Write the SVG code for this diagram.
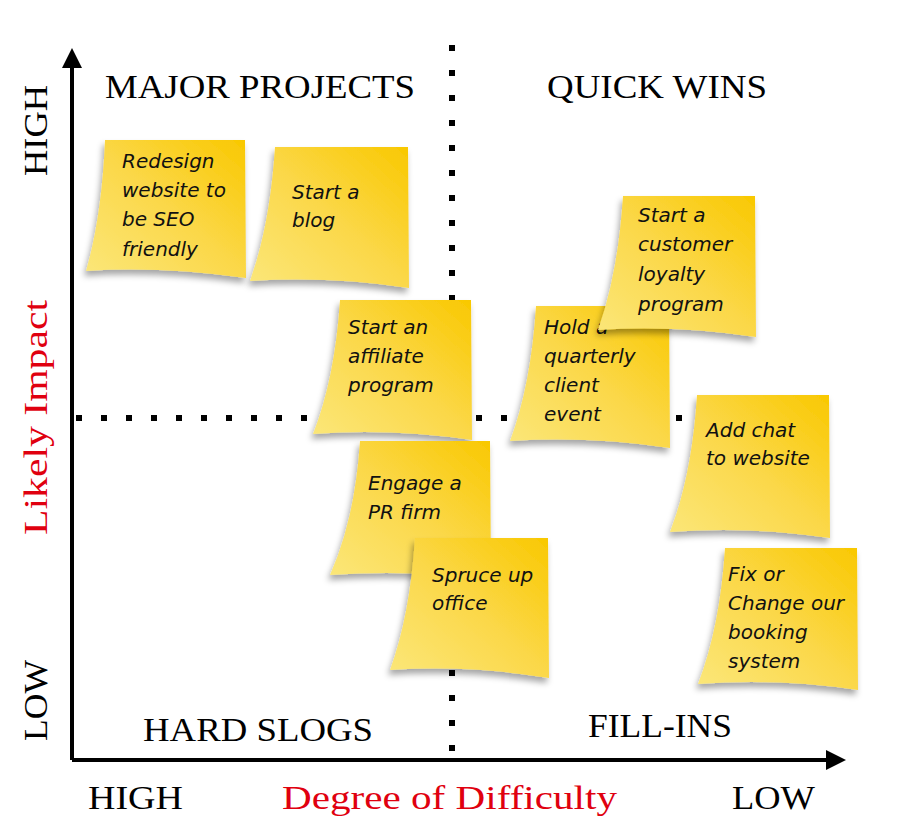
<svg xmlns="http://www.w3.org/2000/svg" width="902" height="826" viewBox="0 0 902 826">
<defs>
<linearGradient id="y" x1="0" y1="1" x2="1" y2="0">
<stop offset="0" stop-color="#fbe77a"/><stop offset="0.5" stop-color="#fbd84a"/><stop offset="1" stop-color="#f9c800"/>
</linearGradient>
<filter id="sh" x="-10%" y="-10%" width="130%" height="130%">
<feDropShadow dx="-2" dy="5" stdDeviation="3" flood-color="#000" flood-opacity="0.35"/>
</filter>
<marker id="ar" viewBox="0 0 10 10" refX="8" refY="5" markerWidth="5" markerHeight="5" orient="auto">
<path d="M0,0 L10,5 L0,10 Z" fill="#000"/>
</marker>
</defs>
<style>
.note{fill:url(#y);filter:url(#sh)}
.hw{font-family:"DejaVu Sans",sans-serif;font-style:oblique;font-size:20px;fill:#111}
.q{font-family:"Liberation Serif",serif;font-size:34px;fill:#000}
.ax{font-family:"Liberation Serif",serif;font-size:34px;fill:#000}
.red{font-family:"Liberation Serif",serif;font-size:34px;fill:#e0000f}
.dot{stroke:#000;stroke-width:6;stroke-dasharray:6 19;fill:none}
</style>
<rect width="902" height="826" fill="#fff"/>
<g id="connectors">
<line class="dot" x1="452" y1="45" x2="452" y2="756"/>
<line class="dot" x1="76" y1="418" x2="690" y2="418"/>
<line x1="72" y1="760" x2="72" y2="52" stroke="#000" stroke-width="4" marker-end="url(#ar)"/>
<line x1="72" y1="760" x2="842" y2="760" stroke="#000" stroke-width="4" marker-end="url(#ar)"/>
</g>
<g id="labels">
<text class="q" x="105" y="98" textLength="310" lengthAdjust="spacingAndGlyphs">MAJOR PROJECTS</text>
<text class="q" x="547" y="98" textLength="220" lengthAdjust="spacingAndGlyphs">QUICK WINS</text>
<text class="q" x="143" y="741" textLength="230" lengthAdjust="spacingAndGlyphs">HARD SLOGS</text>
<text class="q" x="588" y="737" textLength="144" lengthAdjust="spacingAndGlyphs">FILL-INS</text>
<text class="ax" transform="translate(47,176) rotate(-90)" textLength="91" lengthAdjust="spacingAndGlyphs">HIGH</text>
<text class="ax" transform="translate(47,741) rotate(-90)" textLength="81" lengthAdjust="spacingAndGlyphs">LOW</text>
<text class="red" transform="translate(47,535) rotate(-90)" textLength="235" lengthAdjust="spacingAndGlyphs">Likely Impact</text>
<text class="ax" x="88" y="809" textLength="95" lengthAdjust="spacingAndGlyphs">HIGH</text>
<text class="red" x="282" y="809" textLength="335" lengthAdjust="spacingAndGlyphs">Degree of Difficulty</text>
<text class="ax" x="732" y="809" textLength="83" lengthAdjust="spacingAndGlyphs">LOW</text>
</g>
<g id="n1"><path class="note" d="M105,140 L245,140 L246,278 Q160,266 86,271 Q102,215 105,140 Z"/>
<text class="hw" x="122" y="168">Redesign</text><text class="hw" x="122" y="197">website to</text><text class="hw" x="122" y="226">be SEO</text><text class="hw" x="122" y="256">friendly</text></g>
<g id="n2"><path class="note" d="M275,147 L408,147 L409,288 Q330,276 250,281 Q270,225 275,147 Z"/>
<text class="hw" x="292" y="199">Start a</text><text class="hw" x="292" y="227">blog</text></g>
<g id="n3"><path class="note" d="M340,300 L471,300 L472,440 Q390,428 313,434 Q335,378 340,300 Z"/>
<text class="hw" x="348" y="334">Start an</text><text class="hw" x="348" y="363">affiliate</text><text class="hw" x="348" y="392">program</text></g>
<g id="n4"><path class="note" d="M536,306 L669,306 L670,448 Q590,436 510,441 Q531,385 536,306 Z"/>
<text class="hw" x="544" y="334">Hold a</text><text class="hw" x="544" y="363">quarterly</text><text class="hw" x="544" y="392">client</text><text class="hw" x="544" y="421">event</text></g>
<g id="n5"><path class="note" d="M623,196 L755,196 L756,337 Q676,325 598,330 Q618,274 623,196 Z"/>
<text class="hw" x="638" y="222">Start a</text><text class="hw" x="638" y="251">customer</text><text class="hw" x="638" y="281">loyalty</text><text class="hw" x="638" y="311">program</text></g>
<g id="n6"><path class="note" d="M360,441 L490,441 L491,580 Q410,569 330,575 Q355,519 360,441 Z"/>
<text class="hw" x="368" y="490">Engage a</text><text class="hw" x="368" y="519">PR firm</text></g>
<g id="n7"><path class="note" d="M415,538 L548,538 L549,678 Q470,665 390,670 Q410,615 415,538 Z"/>
<text class="hw" x="432" y="582">Spruce up</text><text class="hw" x="432" y="610">office</text></g>
<g id="n8"><path class="note" d="M697,395 L829,395 L830,538 Q750,526 670,532 Q692,475 697,395 Z"/>
<text class="hw" x="706" y="437">Add chat</text><text class="hw" x="706" y="465">to website</text></g>
<g id="n9"><path class="note" d="M725,548 L857,548 L858,690 Q778,678 698,684 Q720,627 725,548 Z"/>
<text class="hw" x="728" y="581">Fix or</text><text class="hw" x="728" y="610">Change our</text><text class="hw" x="728" y="639">booking</text><text class="hw" x="728" y="668">system</text></g>
</svg>
